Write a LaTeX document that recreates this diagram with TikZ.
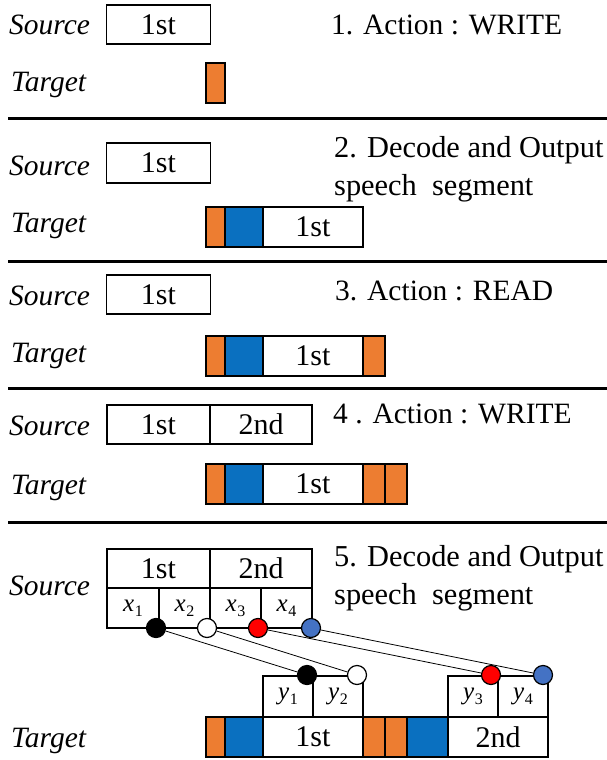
\documentclass[tikz,border=0pt]{standalone}
\usepackage{fontspec}
\setmainfont{Liberation Serif}
\definecolor{orng}{HTML}{ED7D31}
\definecolor{blu}{HTML}{0A70C0}
\definecolor{cblue}{HTML}{4472C4}
\newcommand{\vsub}[2]{{\itshape #1}\kern0.5pt\raisebox{-5pt}{\fontsize{16}{16}\selectfont #2}}
\begin{document}
\begin{tikzpicture}[x=1pt,y=-1pt,
  cell/.style={draw, line width=1.3pt, inner sep=0pt, outer sep=0pt, minimum height=40pt, font=\fontsize{30}{34}\selectfont},
  og/.style={cell, fill=orng},
  bl/.style={cell, fill=blu},
  lbl/.style={inner sep=0pt, anchor=base west, font=\fontsize{29.5}{36}\selectfont\itshape},
  ttl/.style={inner sep=0pt, anchor=base west, font=\fontsize{29.5}{36}\selectfont},
  ttlb/.style={inner sep=0pt, anchor=base west, font=\fontsize{30.4}{36}\selectfont},
  sub/.style={draw, line width=1.3pt, inner sep=0pt, outer sep=0pt, minimum height=40pt, font=\fontsize{25}{28}\selectfont},
  dot/.style={circle, draw, line width=1.2pt, inner sep=0pt, minimum size=19pt},
  conn/.style={line width=0.8pt},
  sep/.style={line width=3pt}
]
\useasboundingbox (0,0) rectangle (607,760);

% ---------- Panel 1 ----------
\node[lbl] (l1s) at (9,35) {Source};
\node[lbl] (l1t) at (11,92) {Target};
\node[cell, minimum width=104pt, minimum height=39pt] (s1) at (158.5,24.5) {1st};
\node[og, minimum width=19pt] (t1a) at (215.5,83) {};
\node[ttl] (h1) at (331,35) {1. Action : WRITE};
\draw[sep] (8,118) -- (607,118);

% ---------- Panel 2 ----------
\node[lbl] (l2s) at (9,175) {Source};
\node[lbl] (l2t) at (11,232) {Target};
\node[cell, minimum width=104pt] (s2) at (158.5,163) {1st};
\node[og, minimum width=19pt] (t2a) at (215.5,227) {};
\node[bl, minimum width=38pt] (t2b) at (244,227) {};
\node[cell, minimum width=100pt] (t2c) at (313,227) {1st};
\node[ttlb] (h2a) at (334,157) {2. Decode and Output};
\node[ttlb] (h2b) at (334,195) {speech\ \ segment};
\draw[sep] (8,261) -- (607,261);

% ---------- Panel 3 ----------
\node[lbl] (l3s) at (9,305) {Source};
\node[lbl] (l3t) at (11,362) {Target};
\node[cell, minimum width=104pt, minimum height=39pt] (s3) at (158.5,294.5) {1st};
\node[og, minimum width=19pt] (t3a) at (215.5,356) {};
\node[bl, minimum width=38pt] (t3b) at (244,356) {};
\node[cell, minimum width=100pt] (t3c) at (313,356) {1st};
\node[og, minimum width=22pt] (t3d) at (374,356) {};
\node[ttl] (h3) at (335,300) {3. Action : READ};
\draw[sep] (8,388) -- (607,388);

% ---------- Panel 4 ----------
\node[lbl] (l4s) at (9,435) {Source};
\node[lbl] (l4t) at (11,494) {Target};
\node[cell, minimum width=103pt, minimum height=39pt] (s4a) at (158.5,424.5) {1st};
\node[cell, minimum width=102pt, minimum height=39pt] (s4b) at (261,424.5) {2nd};
\node[og, minimum width=19pt] (t4a) at (215.5,484) {};
\node[bl, minimum width=38pt] (t4b) at (244,484) {};
\node[cell, minimum width=100pt] (t4c) at (313,484) {1st};
\node[og, minimum width=22pt] (t4d) at (374,484) {};
\node[og, minimum width=22pt] (t4e) at (396,484) {};
\node[ttl] (h4) at (333,423) {4 . Action : WRITE};
\draw[sep] (8,522) -- (607,522);

% ---------- Panel 5 ----------
\node[lbl] (l5s) at (9,595) {Source};
\node[lbl] (l5t) at (11,747) {Target};
\node[cell, minimum width=103pt, minimum height=39pt] (s5a) at (158.5,568.5) {1st};
\node[cell, minimum width=102pt, minimum height=39pt] (s5b) at (261,568.5) {2nd};
\node[sub, minimum width=52pt] (x1) at (133,608) {\vsub{x}{1}};
\node[sub, minimum width=51pt] (x2) at (184.5,608) {\vsub{x}{2}};
\node[sub, minimum width=51pt] (x3) at (235.5,608) {\vsub{x}{3}};
\node[sub, minimum width=51pt] (x4) at (286.5,608) {\vsub{x}{4}};
\node[ttlb] (h5a) at (334,566) {5. Decode and Output};
\node[ttlb] (h5b) at (334,604) {speech\ \ segment};

\node[og, minimum width=19pt] (t5a) at (215.5,737) {};
\node[bl, minimum width=38pt] (t5b) at (244,737) {};
\node[cell, minimum width=100pt] (t5c) at (313,737) {1st};
\node[og, minimum width=22pt] (t5d) at (374,737) {};
\node[og, minimum width=22pt] (t5e) at (396,737) {};
\node[bl, minimum width=41pt] (t5f) at (427.5,737) {};
\node[cell, minimum width=100pt] (t5g) at (498,737) {2nd};

\node[sub, minimum width=50pt, minimum height=41pt] (y1) at (288,696.5) {\vsub{y}{1}};
\node[sub, minimum width=50pt, minimum height=41pt] (y2) at (338,696.5) {\vsub{y}{2}};
\node[sub, minimum width=50pt, minimum height=41pt] (y3) at (473,696.5) {\vsub{y}{3}};
\node[sub, minimum width=50pt, minimum height=41pt] (y4) at (523,696.5) {\vsub{y}{4}};

\node[dot, fill=black] (cs1) at (156,628) {};
\node[dot, fill=white] (cs2) at (207,628) {};
\node[dot, fill=red] (cs3) at (258,628) {};
\node[dot, fill=cblue] (cs4) at (311,628) {};
\node[dot, fill=black] (ct1) at (307,675) {};
\node[dot, fill=white] (ct2) at (357,675) {};
\node[dot, fill=red] (ct3) at (491,675) {};
\node[dot, fill=cblue] (ct4) at (543,675) {};

\draw[conn] (cs1) -- (ct1);
\draw[conn] (cs2) -- (ct2);
\draw[conn] (cs3) -- (ct3);
\draw[conn] (cs4) -- (ct4);
\end{tikzpicture}
\end{document}
